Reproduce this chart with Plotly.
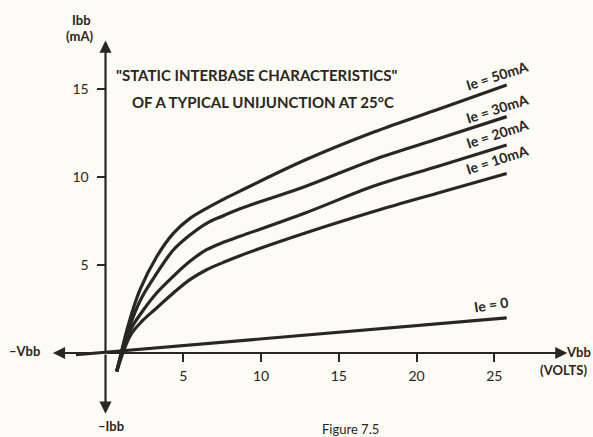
import plotly.graph_objects as go

# ---------------- data ----------------
vbb_50 = [0.72, 1.5, 2.22, 3.29, 4.36, 5.43, 6.5, 7.58, 8.65, 12.8, 17.3, 21.5, 25.8]
ibb_50 = [-1.05, 1.7, 3.6, 5.47, 6.8, 7.65, 8.22, 8.73, 9.2, 10.95, 12.57, 13.88, 15.23]

vbb_30 = [0.72, 1.55, 2.3, 3.29, 4.36, 5.43, 6.5, 7.58, 8.65, 12.8, 17.3, 21.5, 25.8]
ibb_30 = [-1.05, 1.5, 3.1, 4.52, 5.85, 6.7, 7.37, 7.8, 8.2, 9.45, 11.0, 12.2, 13.43]

vbb_20 = [0.72, 1.6, 2.4, 3.29, 4.36, 5.43, 6.5, 7.58, 8.65, 12.8, 17.3, 21.5, 25.8]
ibb_20 = [-1.05, 1.3, 2.4, 3.41, 4.36, 5.21, 5.87, 6.29, 6.63, 7.94, 9.5, 10.64, 11.82]

vbb_10 = [0.72, 1.6, 2.4, 3.29, 4.36, 5.43, 6.5, 7.58, 8.65, 12.8, 17.3, 21.5, 25.8]
ibb_10 = [-1.05, 1.0, 1.85, 2.56, 3.41, 4.17, 4.73, 5.15, 5.53, 6.8, 8.05, 9.12, 10.2]

vbb_0 = [-1.9, 25.8]
ibb_0 = [-0.1, 2.0]

curve_labels = ["Ie = 50mA", "Ie = 30mA", "Ie = 20mA", "Ie = 10mA", "Ie = 0"]
label_pos_v = [25.2, 25.2, 25.2, 25.2, 24.8]
label_pos_i = [15.75, 13.9, 12.5, 11.0, 2.75]
label_angle = [-18, -18, -18, -18, -9]

x_ticks = [5, 10, 15, 20, 25]
y_ticks = [5, 10, 15]

x_arrow_ends = [-3.38, 29.7]
y_arrow_ends = [17.75, -3.45]

title_lines = ['"STATIC INTERBASE CHARACTERISTICS"', "OF A TYPICAL UNIJUNCTION AT 25°C"]

# ---------------- figure ----------------
W, H = 593, 437
ink = "#2a2621"
bg = "#fcfbf4"
font_main = "Lato"

x_range = [-105.5 / 15.55, (W - 105.5) / 15.55]
y_range = [-(H - 353.0) / 17.6, 353.0 / 17.6]

fig = go.Figure()

for vx, iy in [(vbb_50, ibb_50), (vbb_30, ibb_30), (vbb_20, ibb_20), (vbb_10, ibb_10)]:
    fig.add_trace(go.Scatter(x=vx, y=iy, mode="lines",
                             line=dict(color=ink, width=3.2, shape="spline", smoothing=1.0),
                             hoverinfo="skip", showlegend=False))
fig.add_trace(go.Scatter(x=vbb_0, y=ibb_0, mode="lines",
                         line=dict(color=ink, width=3.2),
                         hoverinfo="skip", showlegend=False))

annotations = []
# axis arrows
for xe in x_arrow_ends:
    annotations.append(dict(x=xe, y=0, ax=0, ay=0, xref="x", yref="y", axref="x", ayref="y",
                            showarrow=True, arrowhead=2, arrowsize=1.1, arrowwidth=2.2,
                            arrowcolor=ink, text=""))
for ye in y_arrow_ends:
    annotations.append(dict(x=0, y=ye, ax=0, ay=0, xref="x", yref="y", axref="x", ayref="y",
                            showarrow=True, arrowhead=2, arrowsize=1.1, arrowwidth=2.2,
                            arrowcolor=ink, text=""))

# curve labels
for t, vx, iy, ang in zip(curve_labels, label_pos_v, label_pos_i, label_angle):
    annotations.append(dict(x=vx, y=iy, xref="x", yref="y", text="<b>" + t + "</b>",
                            showarrow=False, textangle=ang,
                            font=dict(family=font_main, size=14, color=ink)))

# title
for k, t in enumerate(title_lines):
    annotations.append(dict(x=(256 if k == 0 else 263) / W, y=1 - (64 if k == 0 else 91) / H,
                            xref="paper", yref="paper", text="<b>" + t + "</b>", showarrow=False,
                            font=dict(family=font_main, size=15, color=ink)))

# axis words
def px_note(txt, px, py, size=13, bold=True):
    annotations.append(dict(x=px / W, y=1 - py / H, xref="paper", yref="paper",
                            text=("<b>" + txt + "</b>") if bold else txt, showarrow=False,
                            xanchor="center", yanchor="middle",
                            font=dict(family=font_main, size=size, color=ink)))

px_note("Ibb", 81, 20)
px_note("(mA)", 79, 36)
px_note("–Vbb", 24, 351)
px_note("Vbb", 578, 352)
px_note("(VOLTS)", 563, 370)
px_note("–Ibb", 111, 426)
px_note("Figure 7.5", 350, 429, size=13, bold=False)

fig.update_layout(
    width=W, height=H,
    margin=dict(l=0, r=0, t=0, b=0),
    paper_bgcolor=bg, plot_bgcolor=bg,
    showlegend=False,
    annotations=annotations,
    xaxis=dict(range=x_range, showgrid=False, zeroline=False, showline=False,
               tickvals=x_ticks, ticktext=[str(v) for v in x_ticks],
               ticks="outside", ticklen=8, tickwidth=2, tickcolor=ink,
               anchor="free", position=(0 - y_range[0]) / (y_range[1] - y_range[0]),
               tickfont=dict(family=font_main, size=14, color=ink), ticklabelstandoff=2),
    yaxis=dict(range=y_range, showgrid=False, zeroline=False, showline=False,
               tickvals=y_ticks, ticktext=[str(v) for v in y_ticks],
               ticks="outside", ticklen=9, tickwidth=2, tickcolor=ink,
               anchor="free", position=(0 - x_range[0]) / (x_range[1] - x_range[0]),
               tickfont=dict(family=font_main, size=14, color=ink), ticklabelstandoff=5),
)

fig.write_html("out.html", config={"displayModeBar": False},
               post_script="document.body.style.margin='0px';document.body.style.overflow='hidden';")
